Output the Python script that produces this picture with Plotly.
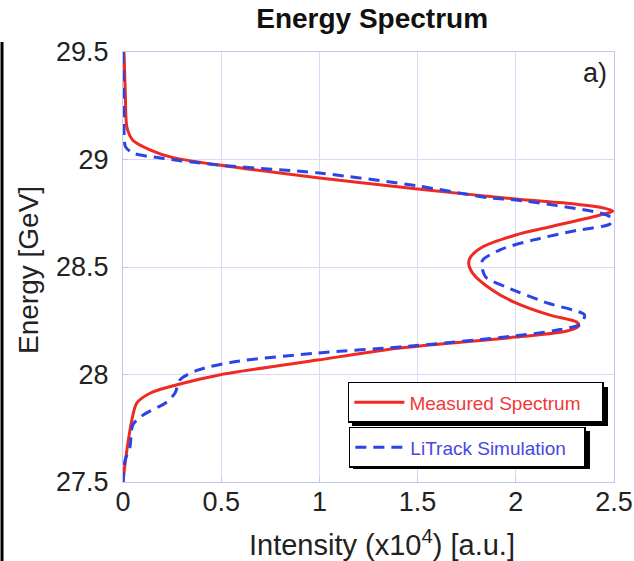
import plotly.graph_objects as go

# Measured spectrum (red, solid): intensity (x10^4 a.u.) vs energy (GeV)
measured_energy = [29.5, 29.3, 29.15, 29.09, 29.044, 29.01, 28.974, 28.914, 28.863, 28.816,
                   28.793, 28.774, 28.76, 28.742, 28.686, 28.649, 28.593, 28.547, 28.519, 28.472,
                   28.393, 28.333, 28.277, 28.244, 28.226, 28.202, 28.174, 28.123, 28.067, 27.998,
                   27.951, 27.914, 27.867, 27.788, 27.681, 27.58, 27.5]
measured_intensity = [0.005, 0.012, 0.02, 0.05, 0.14, 0.25, 0.49, 1.0, 1.5, 2.0,
                      2.3, 2.45, 2.495, 2.43, 2.17, 2.0, 1.83, 1.77, 1.76, 1.78,
                      1.88, 2.0, 2.17, 2.31, 2.32, 2.26, 2.0, 1.41, 0.99, 0.49,
                      0.27, 0.14, 0.07, 0.045, 0.025, 0.01, 0.0]

# LiTrack simulation (blue, dashed)
sim_energy = [29.5, 29.3, 29.15, 29.09, 29.06, 29.03, 29.007, 28.974, 28.937, 28.877,
              28.821, 28.812, 28.751, 28.733, 28.72, 28.70, 28.67, 28.626, 28.58, 28.53,
              28.49, 28.45, 28.407, 28.33, 28.30, 28.277, 28.235, 28.205, 28.18, 28.128,
              28.10, 28.058, 28.02, 27.975, 27.914, 27.87, 27.81, 27.765, 27.66, 27.6, 27.5]
sim_intensity = [0.0, 0.003, 0.005, 0.007, 0.012, 0.05, 0.19, 0.49, 1.0, 1.5,
                 1.87, 2.0, 2.43, 2.48, 2.49, 2.48, 2.31, 2.09, 1.92, 1.83,
                 1.83, 1.85, 1.95, 2.17, 2.29, 2.35, 2.33, 2.2, 2.0, 1.41,
                 0.99, 0.56, 0.38, 0.29, 0.265, 0.22, 0.1, 0.05, 0.035, 0.01, 0.0]

x_ticks = [0, 0.5, 1, 1.5, 2, 2.5]
x_tick_labels = ["0", "0.5", "1", "1.5", "2", "2.5"]
y_ticks = [27.5, 28, 28.5, 29, 29.5]
y_tick_labels = ["27.5", "28", "28.5", "29", "29.5"]

FONT = "Liberation Sans, Arial, sans-serif"
GRID = "#dadaf8"
AXIS = "#c4c4f0"

fig = go.Figure()
fig.add_trace(go.Scatter(
    x=measured_intensity, y=measured_energy, mode="lines",
    name="Measured Spectrum",
    line=dict(color="#ee2a22", width=3, shape="spline", smoothing=0.8),
    legend="legend",
))
fig.add_trace(go.Scatter(
    x=sim_intensity, y=sim_energy, mode="lines",
    name="LiTrack Simulation",
    line=dict(color="#2a44e6", width=3, dash="11px,7px", shape="spline", smoothing=0.8),
    legend="legend2",
))

# legend drop shadows (offset 4 px right/down of each legend box)
for (x0, x1, y0, y1) in [(0.4664, 0.9878, 0.1302, 0.2209), (0.4684, 0.9511, 0.0302, 0.1186)]:
    fig.add_shape(type="rect", xref="paper", yref="paper", x0=x0, x1=x1, y0=y0, y1=y1,
                  fillcolor="black", line=dict(width=0), layer="above")

# cropped frame edge on the far left
fig.add_shape(type="line", xref="paper", yref="paper", x0=-0.2464, x1=-0.2464,
              y0=1.023, y1=-0.19, line=dict(color="black", width=3))

fig.add_annotation(text="a)", xref="paper", yref="paper", x=0.99, y=0.99,
                   xanchor="right", yanchor="top", showarrow=False,
                   font=dict(family=FONT, size=27, color="#222222"))

# axis titles
fig.add_annotation(text="Energy [GeV]", xref="paper", yref="paper", x=-0.1935, y=0.493,
                   xanchor="center", yanchor="middle", textangle=-90, showarrow=False,
                   font=dict(family=FONT, size=28, color="#222222"))
fig.add_annotation(text="Intensity (x10<sup>4</sup>) [a.u.]", xref="paper", yref="paper",
                   x=0.5275, y=-0.1419, xanchor="center", yanchor="middle", showarrow=False,
                   font=dict(family=FONT, size=29, color="#222222"))

fig.update_layout(
    width=634, height=561,
    margin=dict(l=123, r=20, t=52, b=79),
    paper_bgcolor="white", plot_bgcolor="white",
    font=dict(family=FONT, color="#222222"),
    title=dict(text="<b>Energy Spectrum</b>", x=0.587, xanchor="center", y=0.968, yanchor="middle",
               font=dict(family=FONT, size=28, color="#111111")),
    legend=dict(x=0.458, y=0.2326, xanchor="left", yanchor="top", orientation="h",
                bgcolor="white", bordercolor="black", borderwidth=1.5,
                font=dict(family=FONT, size=19, color="#ee3a3a"),
                itemwidth=50, entrywidth=188, tracegroupgap=0),
    legend2=dict(x=0.460, y=0.128, xanchor="left", yanchor="top", orientation="h",
                 bgcolor="white", bordercolor="black", borderwidth=1.5,
                 font=dict(family=FONT, size=19, color="#4848e0"),
                 itemwidth=50, entrywidth=169, tracegroupgap=0),
    showlegend=True,
)
fig.update_xaxes(range=[0, 2.5], tickvals=x_ticks, ticktext=x_tick_labels, automargin=False,
                 showgrid=True, gridcolor=GRID, gridwidth=1, zeroline=False,
                 showline=True, linecolor=AXIS, linewidth=1, mirror=True,
                 ticks="inside", ticklen=5, tickcolor=AXIS, ticklabelstandoff=-4,
                 tickfont=dict(family=FONT, size=27, color="#222222"))
fig.update_yaxes(range=[27.5, 29.5], tickvals=y_ticks, ticktext=y_tick_labels, automargin=False,
                 showgrid=True, gridcolor=GRID, gridwidth=1, zeroline=False,
                 showline=True, linecolor=AXIS, linewidth=1, mirror=True,
                 ticks="inside", ticklen=5, tickcolor=AXIS, ticklabelstandoff=8,
                 tickfont=dict(family=FONT, size=27, color="#222222"))

fig.write_html("out.html")
